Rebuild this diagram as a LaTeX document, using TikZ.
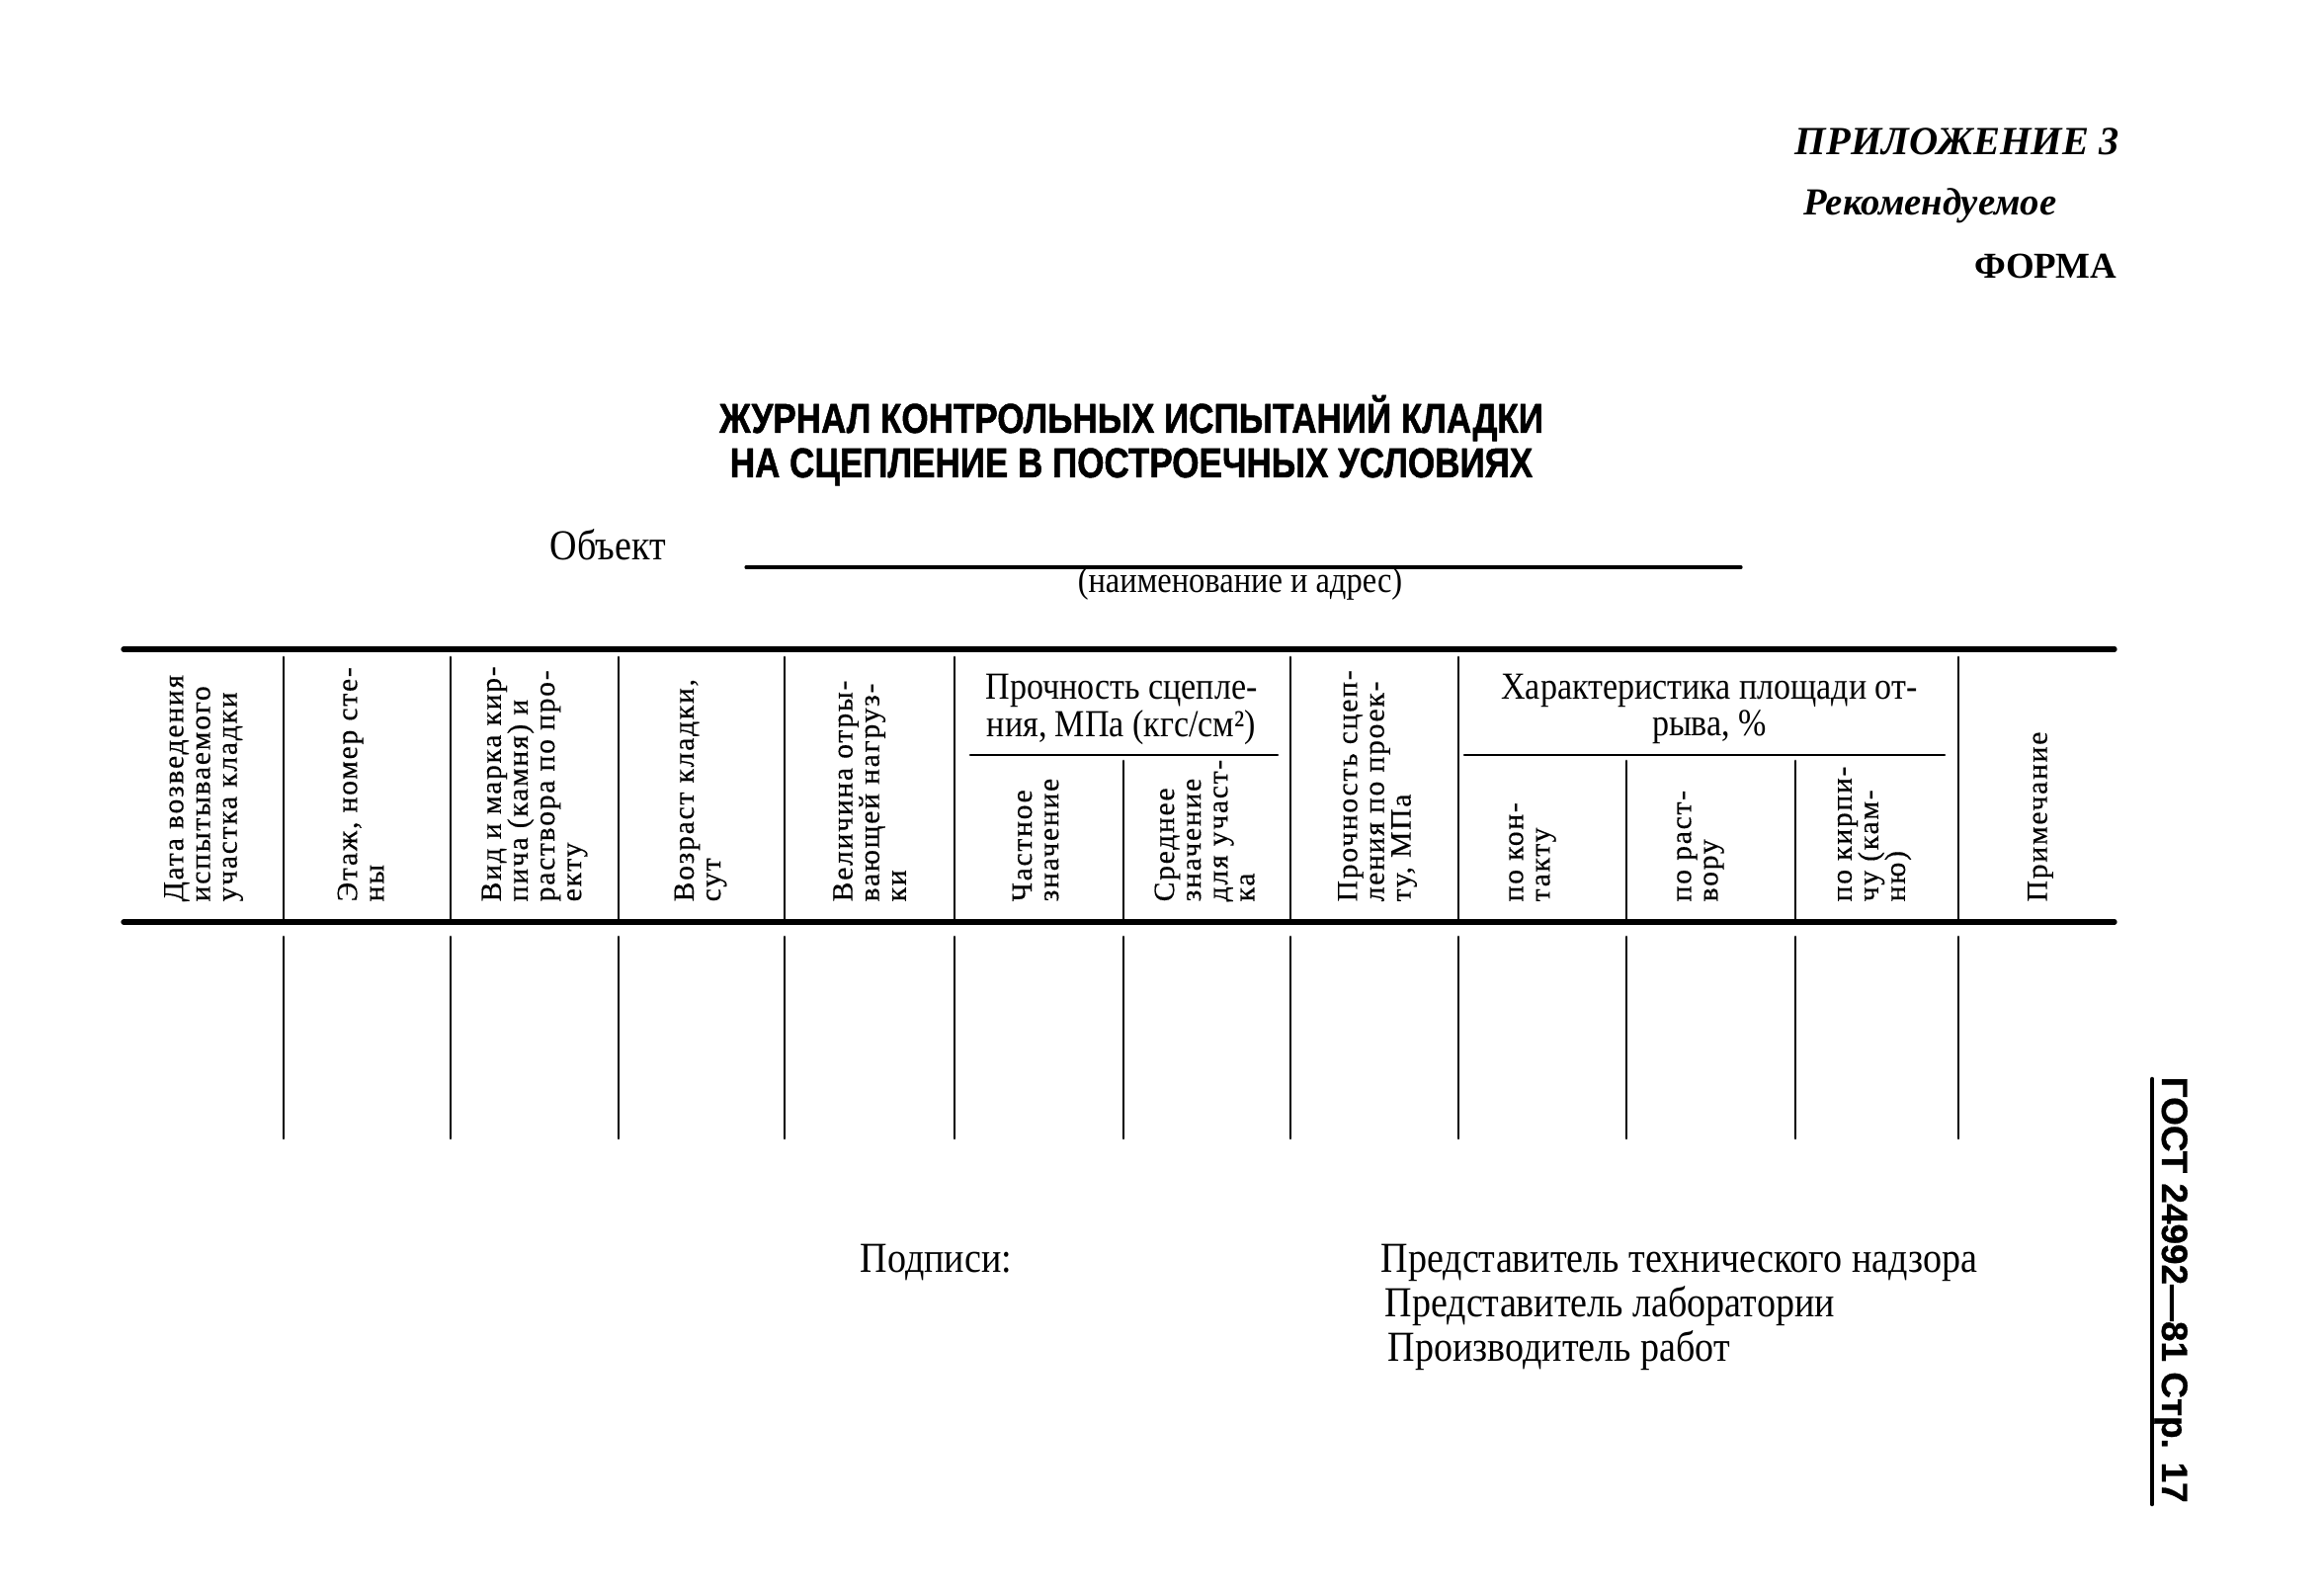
\documentclass[tikz,border=0pt]{standalone}
\usepackage{fontspec}
\setmainfont{Liberation Serif}
\newfontfamily\headfont{Liberation Serif}[LetterSpace=6,FakeBold=0.4]
\newfontfamily\condfont{Liberation Serif}[FakeStretch=0.88]
\newfontfamily\titlefont{Liberation Sans}[FakeStretch=0.83,FakeBold=1.2]
\newfontfamily\gostfont{Liberation Sans}[FakeBold=0.8]
\usepackage{tikz}

\begin{document}
\begin{tikzpicture}[line cap=round,line join=round,x=0.01cm,y=-0.01cm,
	rule/.style={line width=1.5pt},
	vline/.style={line width=0.8pt},
	colhead/.style={rotate=90,anchor=west,inner sep=0pt,align=left,
		font=\headfont\fontsize{8.4}{7.7}\selectfont},
	grouphead/.style={anchor=north,inner sep=0pt,align=center,
		font=\condfont\fontsize{11}{8.2}\selectfont},
	txt/.style={anchor=base west,inner sep=0pt,font=\condfont\fontsize{12.3}{13}\selectfont}]

		\useasboundingbox (0,0) rectangle (2352,1613);

		%oikea yläkulma
		\node[anchor=base east,inner sep=0pt,font=\fontsize{11.5}{13}\selectfont\bfseries\itshape] (appx) at (2145,157) {ПРИЛОЖЕНИЕ 3};
		\node[anchor=base west,inner sep=0pt,font=\fontsize{11}{13}\selectfont\bfseries\itshape] (rec) at (1825,218) {Рекомендуемое};
		\node[anchor=base east,inner sep=0pt,font=\fontsize{10.5}{13}\selectfont\bfseries] (forma) at (2143,282) {ФОРМА};

		%otsikko
		\node[anchor=base,inner sep=0pt,font=\titlefont\fontsize{12}{13}\selectfont\bfseries] (title1) at (1145,438) {ЖУРНАЛ КОНТРОЛЬНЫХ ИСПЫТАНИЙ КЛАДКИ};
		\node[anchor=base,inner sep=0pt,font=\titlefont\fontsize{12}{13}\selectfont\bfseries] (title2) at (1145,483) {НА СЦЕПЛЕНИЕ В ПОСТРОЕЧНЫХ УСЛОВИЯХ};

		%objekti
		\node[txt] (obj) at (556,567) {Объект};
		\coordinate (objA) at (755,574);
		\coordinate (objB) at (1762,574);
		\draw[line width=0.9pt] (objA) -- (objB);
		\node[anchor=base,inner sep=0pt,font=\condfont\fontsize{10.5}{11}\selectfont] (addr) at (1255,600) {(наименование и адрес)};

		%taulukon viivat
		\draw[rule] (125,657) -- (2140,657);
		\draw[rule] (125,933) -- (2140,933);
		\foreach \x in {287,456,626,794,966,1306,1476,1982}
		{\draw[vline] (\x,665) -- (\x,933);
		}
		\draw[vline] (982,764) -- (1293,764);
		\draw[vline] (1482,764) -- (1968,764);
		\foreach \x in {1137,1646,1817}
		{\draw[vline] (\x,770) -- (\x,933);
		}
		\foreach \x in {287,456,626,794,966,1137,1306,1476,1646,1817,1982}
		{\draw[vline] (\x,948) -- (\x,1152);
		}

		%sarakkeiden otsikot
		\node[colhead] (h1) at (206,913) {Дата возведения\\испытываемого\\участка кладки};
		\node[colhead] (h2) at (365,913) {Этаж, номер сте-\\ны};
		\node[colhead] (h3) at (541,913) {Вид и марка кир-\\пича (камня) и\\раствора по про-\\екту};
		\node[colhead] (h4) at (709,913) {Возраст кладки,\\сут};
		\node[colhead] (h5) at (880,913) {Величина отры-\\вающей нагруз-\\ки};
		\node[grouphead] (g1) at (1135,681) {Прочность сцепле-\\ния, МПа (кгс/см²)};
		\node[colhead] (h6a) at (1048,913) {Частное\\значение};
		\node[colhead] (h6b) at (1219,913) {Среднее\\значение\\для участ-\\ка};
		\node[colhead] (h7) at (1394,913) {Прочность сцеп-\\ления по проек-\\ту, МПа};
		\node[grouphead] (g2) at (1730,681) {Характеристика площади от-\\рыва, \%};
		\node[colhead] (h8a) at (1551,913) {по кон-\\такту};
		\node[colhead] (h8b) at (1721,913) {по раст-\\вору};
		\node[colhead] (h8c) at (1897,913) {по кирпи-\\чу (кам-\\ню)};
		\node[colhead] (h9) at (2065,913) {Примечание};

		%allekirjoitukset
		\node[txt] (sign) at (870,1287) {Подписи:};
		\node[txt] (sign1) at (1397,1287) {Представитель технического надзора};
		\node[txt] (sign2) at (1401,1332) {Представитель лаборатории};
		\node[txt] (sign3) at (1404,1377) {Производитель работ};

		%reunateksti
		\coordinate (gA) at (2178,1092);
		\coordinate (gB) at (2178,1522);
		\draw[line width=1.3pt] (gA) -- (gB);
		\node[rotate=-90,anchor=base west,inner sep=0pt,font=\gostfont\fontsize{10.5}{12}\selectfont\bfseries] (gost) at (2188,1089) {ГОСТ 24992—81 Стр. 17};

\end{tikzpicture}
\end{document}
